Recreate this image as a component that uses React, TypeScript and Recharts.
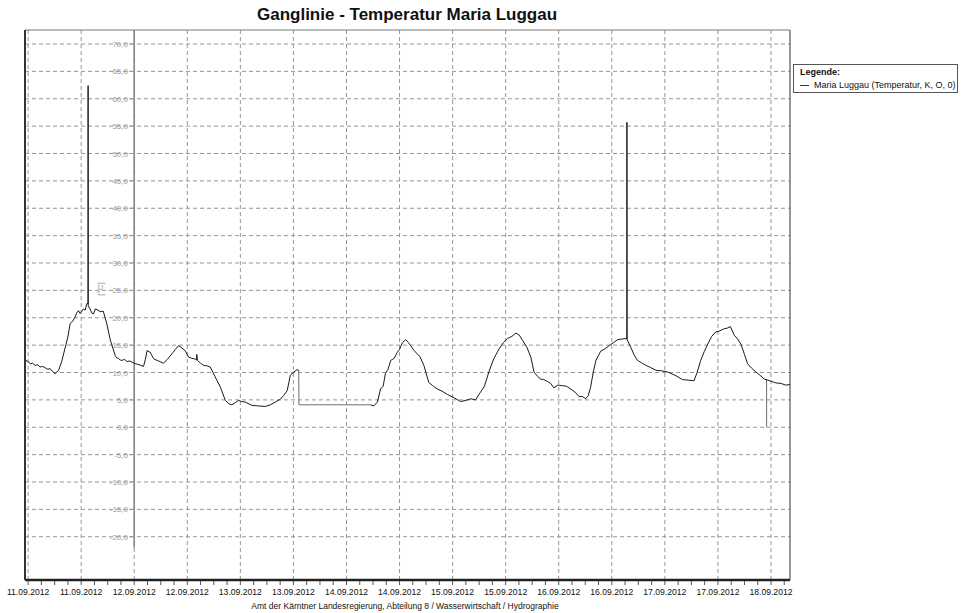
import React from 'react';
import { LineChart, Line, XAxis, YAxis, CartesianGrid, ReferenceLine } from 'recharts';

// Hours since 11.09.2012 00:00
const hours = [
  -0.7, 0.0, 0.5, 1.0, 1.6, 2.2, 2.7, 3.3, 3.8, 4.4, 5.0, 5.5, 6.1, 6.5, 6.9, 7.6, 8.4, 9.0, 9.5, 10.1, 10.6, 11.0,
  11.4, 11.7, 12.0, 12.5, 12.9, 13.3, 13.55, 13.57, 13.6,
  14.0, 14.4, 14.8, 15.2, 15.6, 16.3, 17.0, 17.8, 18.6, 19.7, 20.0, 20.4, 20.8, 21.2, 21.8, 22.4, 23.0, 23.5, 24.2,
  24.8, 25.5, 26.1, 26.5, 26.9, 27.6, 28.4, 29.5, 30.6, 31.5, 32.5, 33.3, 34.0, 34.6, 35.5, 36.3, 37.0, 37.6, 38.1,
  38.15, 38.3, 39.0, 39.7, 40.5, 41.2, 42.3, 43.5, 44.6, 45.4, 46.1, 46.9, 47.6, 48.3, 49.1, 50.6, 52.0,
  53.7, 54.8, 55.9, 57.0, 57.8, 58.6, 59.3, 60.1, 60.8, 61.2, 70.0,
  77.4, 78.2, 79.0, 79.7, 80.3, 80.8, 81.4, 82.0, 82.8, 83.5, 84.0, 84.6, 85.4, 86.0, 86.5, 87.2, 88.0, 88.6, 89.5,
  90.6, 91.5, 92.5, 93.6, 94.8, 96.3, 97.8, 99.0, 100.1, 101.2, 102.3, 103.2, 104.2, 105.3, 106.5, 107.5, 108.4,
  109.4, 110.3, 111.0, 111.8, 112.8, 113.7, 114.4, 115.2, 115.9, 116.6, 117.4, 118.2, 118.9, 119.8, 120.8, 121.7,
  122.7, 123.7, 124.6, 125.4, 126.1, 126.7, 127.2, 127.8, 128.4, 129.5, 130.4, 131.4, 132.3, 133.3, 134.2, 135.2,
  135.4, 135.42, 135.46, 136.3, 137.0, 137.8, 138.7, 139.7, 140.8, 142.0, 143.3, 144.6, 146.3, 148.0, 149.3, 150.6,
  151.3, 152.1, 152.9, 153.7, 154.6, 155.5, 156.4, 157.4, 158.1, 158.8, 159.7, 160.4, 161.2, 162.0, 162.7, 163.6,
  164.6, 165.5, 166.5, 167.3, 168.0, 169.1, 170.3, 171.3, 172.3,
];
const temps = [
  12.3, 12.0, 11.6, 11.7, 11.3, 11.4, 11.0, 11.1, 10.9, 10.6, 10.7, 10.2, 9.8, 10.1, 10.4, 12.0, 14.6, 16.5, 18.9, 19.4, 20.1, 20.9,
  21.3, 20.8, 21.0, 21.6, 21.4, 22.6, 22.6, 62.4, 22.2,
  21.6, 20.9, 20.7, 21.6, 21.5, 21.1, 21.2, 18.9, 15.9, 13.1, 12.7, 12.6, 12.3, 12.2, 12.4, 12.0, 12.1, 11.9, 11.6,
  11.5, 11.3, 11.1, 12.3, 14.0, 13.7, 12.5, 12.1, 11.7, 12.4, 13.4, 14.2, 14.9, 14.6, 14.0, 12.8, 12.6, 12.5, 12.3,
  13.3, 12.2, 11.7, 11.3, 11.2, 11.0, 9.2, 7.3, 4.9, 4.3, 4.1, 4.5, 4.9, 4.7, 4.6, 4.0, 3.9,
  3.8, 4.1, 4.6, 5.1, 5.8, 6.7, 9.5, 10.1, 10.5, 10.4, null,
  4.1, 3.9, 4.6, 7.0, 7.5, 9.8, 10.6, 12.2, 12.6, 13.7, 14.2, 15.4, 16.0, 15.5, 14.9, 14.1, 13.4, 12.9, 11.3,
  8.2, 7.6, 7.0, 6.6, 6.0, 5.4, 4.7, 4.9, 5.2, 5.0, 6.4, 7.5, 10.1, 12.5, 14.3, 15.5, 16.2,
  16.6, 17.2, 16.9, 15.9, 14.6, 12.8, 10.1, 9.3, 8.8, 8.7, 8.4, 8.0, 7.2, 7.7, 7.6, 7.5,
  7.0, 6.4, 5.6, 5.6, 5.2, 5.8, 7.3, 10.0, 12.2, 13.9, 14.3, 14.9, 15.4, 16.0, 16.1, 16.2,
  16.1, 55.7, 16.0, 14.6, 13.3, 12.2, 11.8, 11.3, 10.9, 10.4, 10.3, 10.1, 9.5, 8.7, 8.6, 8.5,
  10.0, 12.2, 13.8, 15.2, 16.6, 17.4, 17.6, 18.0, 18.1, 18.4, 16.8, 16.2, 15.2, 13.3, 11.6, 10.8,
  10.1, 9.5, 8.8, 8.6, 8.4, 8.1, 8.0, 7.7, 7.8,
];
// Gray (filled gap) segment and gray downward spike
const gapHours = [61.2, 61.25, 77.4];
const gapTemps = [10.4, 4.1, 4.1];
const dropHours = [167.0, 167.02];
const dropTemps = [8.7, 0.0];

const yTicks = [-20, -15, -10, -5, 0, 5, 10, 15, 20, 25, 30, 35, 40, 45, 50, 55, 60, 65, 70];
const majorHours = [0, 12, 24, 36, 48, 60, 72, 84, 96, 108, 120, 132, 144, 156, 168];
const xLabels = [
  '11.09.2012', '11.09.2012', '12.09.2012', '12.09.2012', '13.09.2012', '13.09.2012', '14.09.2012', '14.09.2012',
  '15.09.2012', '15.09.2012', '16.09.2012', '16.09.2012', '17.09.2012', '17.09.2012', '18.09.2012',
];
const minorHours = [
  0, 3, 6, 9, 12, 15, 18, 21, 24, 27, 30, 33, 36, 39, 42, 45, 48, 51, 54, 57, 60, 63, 66, 69, 72, 75, 78, 81,
  84, 87, 90, 93, 96, 99, 102, 105, 108, 111, 114, 117, 120, 123, 126, 129, 132, 135, 138, 141, 144, 147, 150,
  153, 156, 159, 162, 165, 168, 171,
];

const mainData = hours.map((h, i) => ({ h, v: temps[i] }));
const gapData = gapHours.map((h, i) => ({ h, v: gapTemps[i] }));
const dropData = dropHours.map((h, i) => ({ h, v: dropTemps[i] }));

const FONT = '"Liberation Sans", Arial, Helvetica, sans-serif';
const X_DOMAIN: [number, number] = [-0.7, 172.3];
const Y_DOMAIN: [number, number] = [-27.9, 72.56];
const AXIS_HOUR = 24;
const Y_LABEL_RIGHT = 128;
const Y_AXIS_X = 135;

const XTick = (props: any) => {
  const { x, y, payload } = props;
  const idx = majorHours.indexOf(payload.value);
  return (
    <g>
      <line x1={x} x2={x} y1={y + 1} y2={y + 5} stroke="#555" strokeWidth={1} />
      {idx >= 0 && (
        <text x={x} y={y + 15} textAnchor="middle" fontSize={8.6} fontFamily={FONT} fill="#111">
          {xLabels[idx]}
        </text>
      )}
    </g>
  );
};

const YTick = (props: any) => {
  const { y, payload } = props;
  const label = Number(payload.value).toFixed(1).replace('.', ',');
  return (
    <g>
      <line x1={Y_LABEL_RIGHT + 1} x2={Y_AXIS_X} y1={y} y2={y} stroke="#999" strokeWidth={1} />
      <text x={Y_LABEL_RIGHT} y={y} dy={3} textAnchor="end" fontSize={8} fontFamily={FONT} fill="#9a9a9a">
        {label}
      </text>
    </g>
  );
};

export default function App() {
  return (
    <div style={{ position: 'absolute', left: 0, top: 0, width: 961, height: 613, background: '#fff', fontFamily: FONT }}>
      <div
        style={{
          position: 'absolute', left: 0, top: 5, width: 814, height: 20, lineHeight: '20px',
          textAlign: 'center', fontSize: 17, fontWeight: 'bold', color: '#111',
        }}
      >
        Ganglinie - Temperatur Maria Luggau
      </div>
      <LineChart width={961} height={613} data={mainData} margin={{ top: 29, right: 170, bottom: 0, left: 0 }}>
        <CartesianGrid
          stroke="#979797"
          strokeDasharray="4 3"
          verticalValues={majorHours}
          horizontalValues={yTicks}
        />
        <XAxis
          dataKey="h"
          type="number"
          domain={X_DOMAIN}
          ticks={minorHours}
          interval={0}
          height={33}
          tickSize={0}
          tickMargin={0}
          tickLine={false}
          tick={(p: any) => <XTick {...p} />}
          axisLine={{ stroke: '#222', strokeWidth: 2.5 }}
          allowDataOverflow
        />
        <XAxis
          xAxisId="top"
          orientation="top"
          dataKey="h"
          type="number"
          domain={X_DOMAIN}
          height={1}
          tick={false}
          tickLine={false}
          axisLine={{ stroke: '#777', strokeWidth: 1 }}
          allowDataOverflow
        />
        <YAxis
          type="number"
          domain={Y_DOMAIN}
          ticks={yTicks}
          interval={0}
          width={25}
          tickLine={false}
          tickSize={0}
          tick={(p: any) => <YTick {...p} />}
          axisLine={{ stroke: '#333', strokeWidth: 2 }}
          allowDataOverflow
        />
        <YAxis
          yAxisId="right"
          orientation="right"
          type="number"
          domain={Y_DOMAIN}
          width={1}
          tick={false}
          tickLine={false}
          axisLine={{ stroke: '#333', strokeWidth: 1 }}
          allowDataOverflow
        />
        <ReferenceLine
          segment={[{ x: AXIS_HOUR, y: 72.56 }, { x: AXIS_HOUR, y: -22 }]}
          stroke="#808080"
          strokeWidth={1.5}
          label={{
            value: '[°C]',
            content: () => (
              <text
                x={100}
                y={289}
                transform="rotate(-90 100 289)"
                textAnchor="middle"
                dy={3}
                fontSize={8}
                fontFamily={FONT}
                fill="#999"
              >
                [°C]
              </text>
            ),
          }}
        />
        <Line data={gapData} dataKey="v" type="linear" stroke="#6e6e6e" strokeWidth={1} dot={false} isAnimationActive={false} />
        <Line data={dropData} dataKey="v" type="linear" stroke="#6e6e6e" strokeWidth={1} dot={false} isAnimationActive={false} />
        <Line dataKey="v" type="linear" stroke="#1a1a1a" strokeWidth={1} dot={false} connectNulls={false} isAnimationActive={false} />
      </LineChart>
      <div
        style={{
          position: 'absolute', left: 793, top: 64, width: 163, height: 27, border: '1px solid #555',
          background: '#fff', fontSize: 9, color: '#111', boxSizing: 'content-box',
        }}
      >
        <div style={{ position: 'absolute', left: 6, top: 2, lineHeight: '11px', fontWeight: 'bold' }}>Legende:</div>
        <div style={{ position: 'absolute', left: 6, top: 15, lineHeight: '11px', whiteSpace: 'nowrap' }}>
          <span style={{ display: 'inline-block', width: 9, height: 0, borderTop: '1px solid #333', verticalAlign: 'middle', marginRight: 5 }} />
          Maria Luggau (Temperatur, K, O, 0)
        </div>
      </div>
      <div
        style={{
          position: 'absolute', left: 0, top: 600, width: 810, height: 12, lineHeight: '12px',
          textAlign: 'center', fontSize: 8.5, color: '#111',
        }}
      >
        Amt der Kärntner Landesregierung, Abteilung 8 / Wasserwirtschaft / Hydrographie
      </div>
    </div>
  );
}
